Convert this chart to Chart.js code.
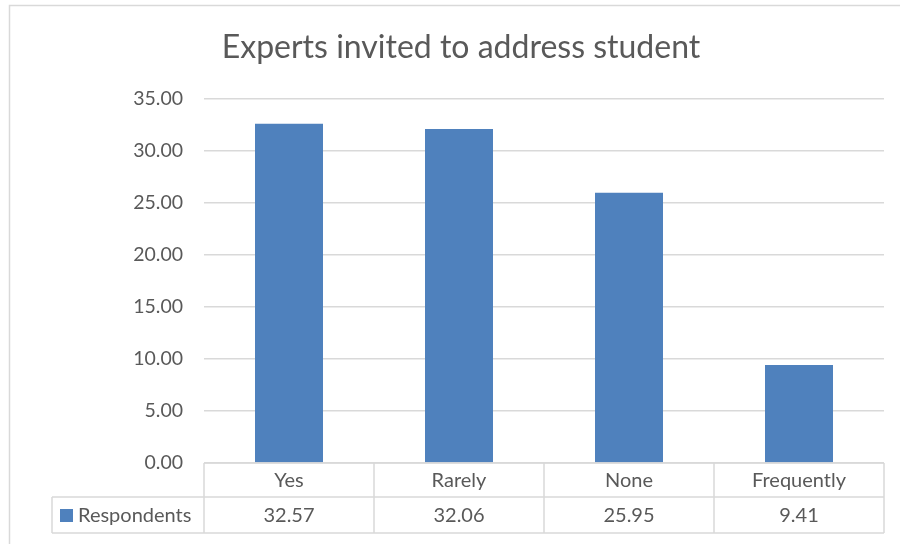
<!DOCTYPE html>
<html>
<head>
<meta charset="utf-8">
<script src="https://cdn.jsdelivr.net/npm/chart.js@4/dist/chart.umd.min.js"></script>
<style>
  html, body { margin: 0; padding: 0; background: #fff; }
  canvas { display: block; }
</style>
</head>
<body>
<canvas id="chart" width="900" height="544"></canvas>
<script>
// Experts invited to address student - bar chart with data table

const categories = ['Yes', 'Rarely', 'None', 'Frequently'];
const respondents = [32.57, 32.06, 25.95, 9.41];
const seriesName = 'Respondents';
const chartTitle = 'Experts invited to address student';

const FONT = 'Lato, "Open Sans", sans-serif';
const TEXT = '#595959';
const LINE = '#d9d9d9';
const BAR = '#4f81bd';

// outer frame + data table under the plot
const tablePlugin = {
  id: 'dataTable',
  beforeDraw(chart) {
    const ctx = chart.ctx;
    ctx.save();
    ctx.strokeStyle = LINE;
    ctx.lineWidth = 1.5;
    ctx.strokeRect(9.5, 5.5, 1000, 1000);
    ctx.restore();
  },
  afterDraw(chart) {
    const ctx = chart.ctx;
    const x = chart.scales.x;
    const area = chart.chartArea;
    const half = (x.getPixelForValue(1) - x.getPixelForValue(0)) / 2;
    const top = area.bottom;
    const mid = top + 34;
    const bottom = mid + 36;
    const legendLeft = 52;

    ctx.save();
    ctx.strokeStyle = LINE;
    ctx.lineWidth = 1.5;
    ctx.beginPath();
    // horizontal lines
    ctx.moveTo(area.left, top); ctx.lineTo(area.right, top);
    ctx.moveTo(legendLeft, mid); ctx.lineTo(area.right, mid);
    ctx.moveTo(legendLeft, bottom); ctx.lineTo(area.right, bottom);
    // vertical lines
    ctx.moveTo(legendLeft, mid); ctx.lineTo(legendLeft, bottom);
    ctx.moveTo(area.left, top); ctx.lineTo(area.left, bottom);
    categories.forEach((c, i) => {
      const r = x.getPixelForValue(i) + half;
      ctx.moveTo(r, top); ctx.lineTo(r, bottom);
    });
    ctx.stroke();

    ctx.fillStyle = TEXT;
    ctx.font = '20px ' + FONT;
    ctx.textAlign = 'center';
    ctx.textBaseline = 'middle';
    categories.forEach((c, i) => {
      const cx = x.getPixelForValue(i);
      ctx.fillText(c, cx, (top + mid) / 2 + 1);
      ctx.fillText(respondents[i].toFixed(2), cx, (mid + bottom) / 2 + 1);
    });

    // legend key
    ctx.fillStyle = BAR;
    ctx.fillRect(60, (mid + bottom) / 2 - 6, 13, 13);
    ctx.fillStyle = TEXT;
    ctx.textAlign = 'left';
    ctx.fillText(seriesName, 78, (mid + bottom) / 2 + 1);
    ctx.restore();
  },
};

new Chart(document.getElementById('chart'), {
  type: 'bar',
  data: {
    labels: categories,
    datasets: [
      {
        label: seriesName,
        data: respondents,
        backgroundColor: BAR,
        borderWidth: 0,
        categoryPercentage: 1,
        barPercentage: 0.4,
      },
    ],
  },
  options: {
    responsive: false,
    animation: false,
    layout: {
      padding: { top: 0, left: 38, right: 16, bottom: 81 },
    },
    scales: {
      x: {
        display: false,
        offset: true,
      },
      y: {
        min: 0,
        max: 35,
        border: { display: false },
        grid: { color: LINE, lineWidth: 1.5, drawTicks: false },
        ticks: {
          stepSize: 5,
          padding: 21,
          color: TEXT,
          font: { family: FONT, size: 19.5 },
          callback: (v) => v.toFixed(2),
        },
        afterFit(scale) {
          scale.width = 166;
        },
      },
    },
    plugins: {
      legend: { display: false },
      tooltip: { enabled: false },
      title: {
        display: true,
        text: chartTitle,
        color: TEXT,
        font: { family: FONT, size: 32, weight: 'normal' },
        padding: { top: 28, bottom: 32 },
      },
    },
  },
  plugins: [tablePlugin],
});
</script>
</body>
</html>
